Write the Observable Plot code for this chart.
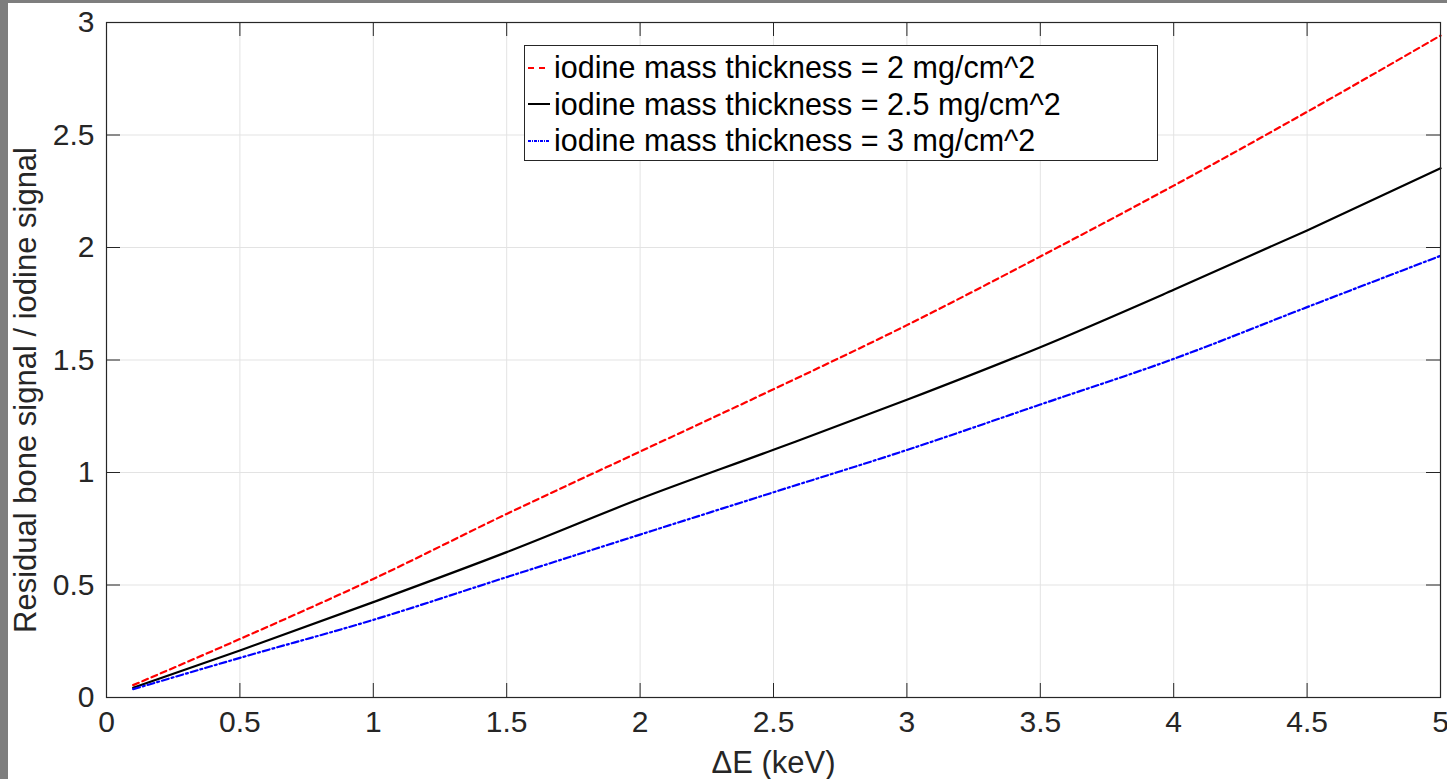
<!DOCTYPE html>
<html>
<head>
<meta charset="utf-8">
<script src="https://cdn.jsdelivr.net/npm/d3@7"></script>
<script src="https://cdn.jsdelivr.net/npm/@observablehq/plot@0.6"></script>
<style>
  html, body { margin: 0; padding: 0; }
  body { width: 1447px; height: 779px; background: #7e7e7e; overflow: hidden; position: relative; font-family: "Liberation Sans", Arial, sans-serif; }
  #chart { position: absolute; left: 8px; top: 3px; width: 1439px; height: 776px; background: #fff; }
  #legend { position: absolute; left: 524px; top: 45px; width: 632px; height: 114px; border: 1px solid #262626; background: #fff; box-sizing: content-box; }
  .row { position: absolute; left: 0; height: 37px; display: flex; align-items: center; font-size: 30.5px; color: #000; white-space: nowrap; }
  .row svg { margin-left: 3px; margin-right: 4px; }
</style>
</head>
<body>
<div id="chart"></div>
<div id="legend"></div>
<script>
// ----- data -----
const deltaE   = [0.1, 0.5, 1.0, 1.5, 2.0, 2.5, 3.0, 3.5, 4.0, 4.5, 5.0];
const ratio2   = [0.055, 0.26, 0.527, 0.816, 1.093, 1.37, 1.655, 1.96, 2.275, 2.603, 2.942];
const ratio25  = [0.043, 0.209, 0.424, 0.646, 0.883, 1.101, 1.323, 1.557, 1.812, 2.076, 2.352];
const ratio3   = [0.037, 0.176, 0.345, 0.535, 0.724, 0.912, 1.10, 1.302, 1.505, 1.735, 1.963];
const seriesNames = [
  "iodine mass thickness = 2 mg/cm^2",
  "iodine mass thickness = 2.5 mg/cm^2",
  "iodine mass thickness = 3 mg/cm^2"
];
const seriesColors = ["#ff0000", "#000000", "#0000ff"];
const seriesDash = ["6,4", null, "7,3,2,3"];
const xTicks = [0, 0.5, 1, 1.5, 2, 2.5, 3, 3.5, 4, 4.5, 5];
const yTicks = [0, 0.5, 1, 1.5, 2, 2.5, 3];
const xLabel = "ΔE (keV)";
const yLabel = "Residual bone signal / iodine signal";

const seriesValues = [ratio2, ratio25, ratio3];
const tables = seriesValues.map(vals => deltaE.map((x, i) => ({x, y: vals[i]})));

const W = 1439, H = 776, mL = 98, mR = 7, mT = 19, mB = 82;
const innerH = H - mT - mB, innerW = W - mL - mR;
const tickLen = 14;
const axisColor = "#262626";
const fmt = d => String(d);

const chart = Plot.plot({
  width: W, height: H,
  marginLeft: mL, marginRight: mR, marginTop: mT, marginBottom: mB,
  style: {fontFamily: "'Liberation Sans', Arial, sans-serif", fontSize: "30px", color: axisColor, background: "#fff", overflow: "visible"},
  x: {domain: [0, 5]},
  y: {domain: [0, 3]},
  marks: [
    Plot.gridX(xTicks, {stroke: "#e3e3e3", strokeOpacity: 1}),
    Plot.gridY(yTicks, {stroke: "#e3e3e3", strokeOpacity: 1}),
    // inward ticks on all four sides
    Plot.tickX(xTicks, {x: d => d, insetTop: innerH - tickLen, stroke: axisColor}),
    Plot.tickX(xTicks, {x: d => d, insetBottom: innerH - tickLen, stroke: axisColor}),
    Plot.tickY(yTicks, {y: d => d, insetRight: innerW - tickLen, stroke: axisColor}),
    Plot.tickY(yTicks, {y: d => d, insetLeft: innerW - tickLen, stroke: axisColor}),
    Plot.axisX(xTicks, {tickSize: 0, tickPadding: 13, label: null, fill: axisColor, tickFormat: fmt}),
    Plot.axisY(yTicks, {tickSize: 0, tickPadding: 12, label: null, fill: axisColor, tickFormat: fmt}),
    ...tables.map((t, i) => Plot.line(t, {x: "x", y: "y", stroke: seriesColors[i], strokeWidth: 2.2, strokeDasharray: seriesDash[i], curve: "monotone-x"})),
    Plot.frame({stroke: axisColor, strokeWidth: 1.2}),
    Plot.text([xLabel], {frameAnchor: "bottom", text: d => d, dy: 66, fontSize: 31, fill: axisColor, lineAnchor: "middle", textAnchor: "middle"}),
    Plot.text([yLabel], {frameAnchor: "left", text: d => d, dx: -80, dy: 30, rotate: -90, fontSize: 31, fill: axisColor, lineAnchor: "middle", textAnchor: "middle"})
  ]
});
document.getElementById("chart").appendChild(chart);

// legend
const legend = document.getElementById("legend");
seriesNames.forEach((name, i) => {
  const row = document.createElement("div");
  row.className = "row";
  row.style.top = (3 + i * 36.5) + "px";
  const ns = "http://www.w3.org/2000/svg";
  const s = document.createElementNS(ns, "svg");
  s.setAttribute("width", 22); s.setAttribute("height", 10);
  const l = document.createElementNS(ns, "line");
  l.setAttribute("x1", 0); l.setAttribute("x2", 22); l.setAttribute("y1", 5); l.setAttribute("y2", 5);
  l.setAttribute("stroke", seriesColors[i]); l.setAttribute("stroke-width", 2);
  if (seriesDash[i]) l.setAttribute("stroke-dasharray", seriesDash[i] === "6,4" ? "6,5" : "3,1,1,1");
  s.appendChild(l);
  row.appendChild(s);
  const t = document.createElement("span");
  t.textContent = name;
  row.appendChild(t);
  legend.appendChild(row);
});
</script>
</body>
</html>
